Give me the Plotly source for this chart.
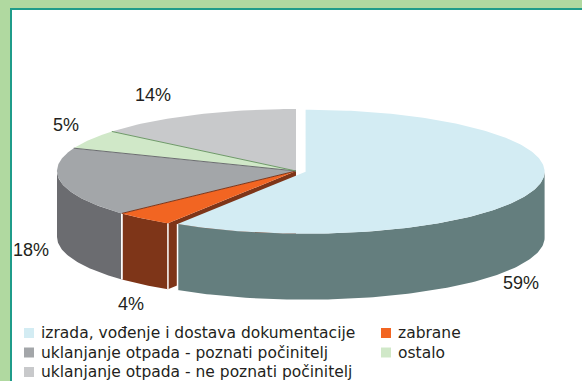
import math
import plotly.graph_objects as go

# ---- data -------------------------------------------------------------
labels = [
    "izrada, vođenje i dostava dokumentacije",
    "zabrane",
    "uklanjanje otpada - poznati počinitelj",
    "ostalo",
    "uklanjanje otpada - ne poznati počinitelj",
]
values = [59, 4, 18, 5, 14]
exploded = [True, False, False, False, False]

# ---- styling ----------------------------------------------------------
top_colors = ["#d3ecf3", "#f26522", "#a3a6a9", "#d0e8c8", "#c8c9cb"]
side_colors = ["#647e7e", "#7e3518", "#6b6c70", "#8fa888", "#8c8d90"]
seam_colors = ["#647e7e", "#7e3518", "#6b6c70", "#6e9a68", "#ffffff"]
label_pos = [(521, 283), (131, 304), (31, 250), (66, 125), (153, 95)]
legend_cols = [24, 381]
legend_rows = [333, 352.5, 372]

W, H = 582, 381
CX, CY = 296, 171          # pie centre on screen
RX, RY = 239, 62           # top ellipse radii
DEPTH = 66                 # thickness of the pie
EXPLODE_PX = 10            # offset of an exploded wedge
TEXT = "#231f20"


def rim(cx, cy, a0, a1, n=90):
    """Points on the top ellipse, angles in degrees clockwise from 12 o'clock."""
    pts = []
    steps = max(2, int(abs(a1 - a0) / 360 * n * 4) + 2)
    for k in range(steps):
        a = math.radians(a0 + (a1 - a0) * k / (steps - 1))
        pts.append((cx + RX * math.sin(a), cy - RY * math.cos(a)))
    return pts


def poly(fig, pts, color):
    xs = [p[0] for p in pts] + [pts[0][0]]
    ys = [p[1] for p in pts] + [pts[0][1]]
    fig.add_trace(go.Scatter(x=xs, y=ys, mode="lines", fill="toself",
                             fillcolor=color, line=dict(width=0, color=color),
                             hoverinfo="skip", showlegend=False))


def seg(fig, p, q, color, width=1.2):
    fig.add_trace(go.Scatter(x=[p[0], q[0]], y=[p[1], q[1]], mode="lines",
                             line=dict(color=color, width=width),
                             hoverinfo="skip", showlegend=False))


# wedge angles and centres from the values
total = float(sum(values))
wedges = []
start = 0.0
for i, v in enumerate(values):
    span = v / total * 360.0
    a0, a1 = start, start + span
    mid = math.radians((a0 + a1) / 2)
    cx, cy = CX, CY
    if exploded[i]:
        cx += EXPLODE_PX * math.sin(mid)
        cy -= EXPLODE_PX * math.cos(mid) * RY / RX
    wedges.append((a0, a1, cx, cy))
    start = a1

fig = go.Figure()

# radial cut faces that show next to an exploded neighbour
n = len(values)
for i, (a0, a1, cx, cy) in enumerate(wedges):
    prev_i = (i - 1) % n
    next_i = (i + 1) % n
    # start face points towards the viewer when sin(a0) < 0
    if math.sin(math.radians(a0)) < -1e-6 and exploded[prev_i] != exploded[i]:
        p = rim(cx, cy, a0, a0, 2)[0]
        poly(fig, [(cx, cy), p, (p[0], p[1] + DEPTH), (cx, cy + DEPTH)],
             side_colors[i])
    if math.sin(math.radians(a1)) > 1e-6 and exploded[next_i] != exploded[i]:
        p = rim(cx, cy, a1, a1, 2)[0]
        poly(fig, [(cx, cy), p, (p[0], p[1] + DEPTH), (cx, cy + DEPTH)],
             side_colors[i])

# outer walls on the front half (90..270 degrees)
for order in ([i for i in range(n) if not exploded[i]],
              [i for i in range(n) if exploded[i]]):
    for i in order:
        a0, a1, cx, cy = wedges[i]
        lo, hi = max(a0, 90.0), min(a1, 270.0)
        if hi <= lo:
            continue
        edge = rim(cx, cy, lo, hi)
        bottom = [(x, y + DEPTH) for x, y in reversed(edge)]
        poly(fig, edge + bottom, side_colors[i])
        for a in (lo, hi):
            if 90.0 < a < 270.0:
                p = rim(cx, cy, a, a, 2)[0]
                seg(fig, p, (p[0], p[1] + DEPTH), "white", 1.5)

# top surfaces
for order in ([i for i in range(n) if not exploded[i]],
              [i for i in range(n) if exploded[i]]):
    for i in order:
        a0, a1, cx, cy = wedges[i]
        poly(fig, [(cx, cy)] + rim(cx, cy, a0, a1), top_colors[i])

# thin seams between neighbouring tops
for i in range(n):
    a0, a1, cx, cy = wedges[i]
    if exploded[i] or exploded[(i - 1) % n]:
        continue
    p = rim(cx, cy, a0, a0, 2)[0]
    seg(fig, (cx, cy), p, seam_colors[(i - 1) % n], 1)

# percentage labels
for v, (lx, ly) in zip(values, label_pos):
    fig.add_annotation(x=lx, y=ly, text=f"{v}%", showarrow=False,
                       xanchor="center", yanchor="middle",
                       font=dict(family="Liberation Sans, Arial", size=18,
                                 color=TEXT))

# legend: two columns, filled row by row
for i, (lab, col) in enumerate(zip(labels, top_colors)):
    x0 = legend_cols[i % 2]
    y0 = legend_rows[i // 2]
    fig.add_trace(go.Scatter(x=[x0 + 5], y=[y0], mode="markers",
                             marker=dict(symbol="square", size=10, color=col,
                                         line=dict(width=0)),
                             hoverinfo="skip", showlegend=False))
    fig.add_annotation(x=x0 + 15, y=y0, text=lab, showarrow=False,
                       xanchor="left", yanchor="middle",
                       font=dict(family="DejaVu Sans, Verdana", size=15.5,
                                 color=TEXT))

fig.update_layout(
    width=W, height=H,
    margin=dict(l=0, r=0, t=0, b=0),
    paper_bgcolor="#b0d9a0",
    plot_bgcolor="#b0d9a0",
    showlegend=False,
    xaxis=dict(range=[0, W], visible=False, fixedrange=True),
    yaxis=dict(range=[H, 0], visible=False, fixedrange=True),
    shapes=[dict(type="rect", xref="x", yref="y", x0=11, y0=9, x1=W + 40,
                 y1=H + 40, fillcolor="white",
                 line=dict(color="#1f9c8a", width=2), layer="below")],
)

fig.write_html("out.html")
